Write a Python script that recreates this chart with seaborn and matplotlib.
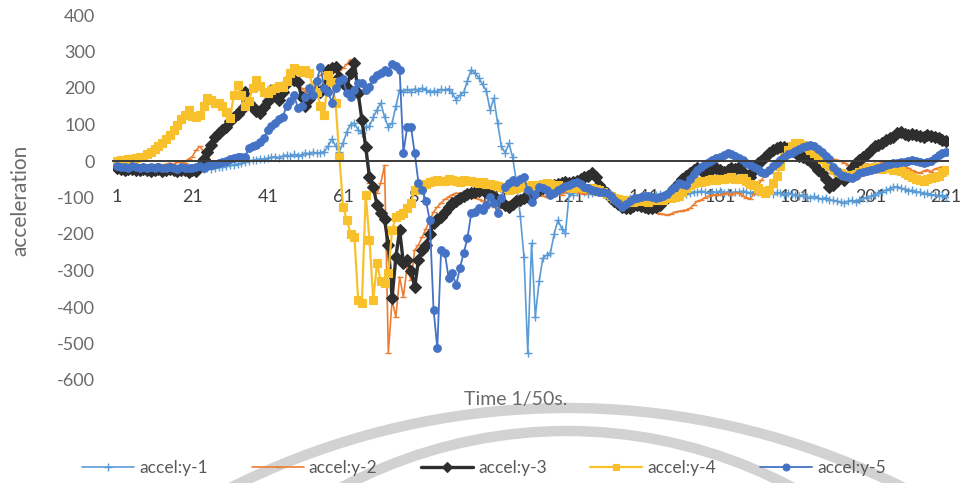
import numpy as np
import matplotlib
matplotlib.use("Agg")
import matplotlib.pyplot as plt
from matplotlib.patches import Circle
import seaborn as sns

# ---- data -------------------------------------------------------------
t = list(range(1, 222))

accel_y1 = [
    -20, -22, -21, -23, -20, -22, -24, -21, -23, -22,
    -24, -22, -25, -23, -21, -24, -26, -22, -25, -23,
    -24, -22, -20, -23, -19, -21, -18, -16, -17, -14,
    -12, -10, -8, -6, -3, 0, 2, 4, 6, 5,
    8, 10, 12, 9, 14, 16, 13, 18, 15, 17,
    22, 20, 24, 21, 23, 26, 40, 60, 42, 25,
    50, 80, 100, 104, 85, 77, 93, 95, 120, 140,
    159, 120, 93, 104, 150, 195, 188, 196, 190, 198,
    192, 200, 194, 188, 192, 190, 196, 194, 198, 185,
    168, 180, 188, 220, 250, 240, 228, 210, 192, 140,
    172, 104, 40, 22, 48, 10, -60, -150, -263, -526,
    -225, -427, -330, -266, -258, -252, -200, -162, -185, -197,
    -88, -92, -85, -80, -84, -90, -88, -82, -86, -90,
    -94, -98, -100, -104, -108, -106, -102, -98, -100, -96,
    -92, -95, -98, -94, -90, -92, -96, -93, -90, -88,
    -86, -90, -88, -84, -86, -82, -85, -88, -84, -86,
    -83, -87, -85, -88, -84, -86, -82, -85, -88, -84,
    -86, -82, -85, -88, -90, -86, -89, -92, -88, -90,
    -94, -96, -92, -98, -100, -97, -102, -104, -100, -106,
    -108, -110, -112, -114, -110, -108, -112, -106, -102, -100,
    -96, -92, -88, -84, -80, -76, -72, -70, -74, -78,
    -82, -80, -86, -84, -90, -88, -94, -92, -96, -94, -98,
]

accel_y2 = [
    -12, -10, -14, -11, -13, -9, -12, -10, -13, -11,
    -10, -8, -12, -9, -6, -10, -4, -2, -5, 5,
    12, 30, 40, 25, 15, 35, 55, 72, 88, 100,
    112, 125, 135, 150, 180, 160, 140, 135, 150, 160,
    175, 185, 170, 180, 200, 215, 230, 222, 210, 200,
    190, 205, 215, 225, 235, 240, 245, 250, 255, 248,
    255, 265, 278, 250, 190, 120, 30, -60, -80, -88,
    -60, -12, -526, -381, -427, -318, -372, -290, -326, -244,
    -230, -208, -185, -162, -140, -126, -115, -105, -98, -92,
    -88, -90, -86, -92, -95, -100, -105, -110, -115, -120,
    -126, -130, -125, -118, -112, -108, -100, -96, -94, -98,
    -100, -96, -92, -95, -98, -94, -90, -88, -92, -86,
    -79, -82, -85, -88, -90, -86, -88, -92, -90, -94,
    -96, -98, -100, -104, -106, -110, -115, -120, -124, -128,
    -129, -132, -136, -140, -144, -146, -148, -145, -140, -138,
    -136, -134, -130, -120, -110, -107, -100, -96, -93, -92,
    -93, -90, -88, -92, -88, -88, -95, -100, -104, -90,
    -70, -52, -38, -25, -20, -16, -5, 15, 35, 45,
    52, 48, 40, 35, 30, 25, 22, 15, 10, 8,
    5, 3, 0, -5, -10, -15, -19, -14, -11, -8,
    -11, -6, -8, -3, -5, -2, -3, 0, -6, -12,
    -20, -26, -30, -33, -28, -24, -30, -22, -19, -16, -19,
]

accel_y3 = [
    -20, -22, -25, -23, -21, -24, -26, -22, -24, -28,
    -25, -23, -27, -24, -22, -26, -28, -24, -26, -30,
    -25, -28, -15, 5, 25, 45, 65, 77, 85, 93,
    110, 121, 130, 140, 190, 160, 148, 138, 131, 148,
    165, 195, 180, 167, 190, 213, 227, 222, 217, 175,
    150, 170, 195, 192, 190, 200, 250, 255, 258, 230,
    215, 203, 240, 268, 186, 112, 38, -44, -71, -120,
    -143, -160, -230, -375, -263, -189, -280, -271, -300, -345,
    -271, -244, -230, -200, -170, -160, -153, -140, -125, -116,
    -110, -100, -95, -90, -88, -85, -82, -80, -85, -90,
    -98, -106, -112, -120, -126, -118, -110, -107, -102, -98,
    -92, -88, -80, -75, -71, -70, -66, -64, -60, -58,
    -60, -58, -55, -50, -45, -40, -33, -45, -65, -80,
    -88, -100, -110, -118, -125, -130, -128, -124, -120, -122,
    -126, -128, -130, -126, -120, -110, -100, -85, -71, -60,
    -50, -40, -33, -25, -20, -25, -33, -28, -22, -19,
    -25, -30, -25, -20, -22, -16, -30, -52, -45, -25,
    -5, 0, 11, 22, 30, 35, 38, 38, 35, 30,
    25, 15, 11, 5, 3, -10, -25, -33, -50, -71,
    -65, -55, -44, -52, -40, -20, -5, 3, 10, 20,
    30, 40, 45, 50, 58, 62, 65, 77, 80, 75,
    71, 73, 70, 68, 66, 70, 68, 65, 62, 58, 55,
]

accel_y4 = [
    0, 2, 3, 5, 6, 8, 10, 12, 18, 25,
    32, 40, 48, 60, 72, 85, 100, 115, 125, 140,
    122, 120, 125, 150, 172, 168, 160, 158, 150, 135,
    117, 180, 208, 180, 150, 165, 200, 222, 205, 190,
    185, 195, 200, 205, 203, 220, 240, 254, 250, 245,
    248, 240, 203, 190, 150, 125, 236, 217, 160, 12,
    -126, -162, -200, -208, -381, -389, -93, -216, -381, -280,
    -330, -334, -307, -190, -153, -148, -143, -130, -115, -79,
    -75, -71, -62, -58, -55, -52, -56, -54, -50, -53,
    -55, -58, -52, -56, -54, -57, -60, -58, -62, -64,
    -66, -68, -72, -75, -79, -76, -74, -70, -72, -68,
    -66, -70, -65, -62, -60, -64, -68, -66, -70, -71,
    -71, -74, -72, -70, -73, -75, -74, -76, -80, -85,
    -90, -95, -101, -104, -106, -108, -110, -112, -110, -108,
    -110, -112, -108, -105, -108, -106, -102, -100, -98, -96,
    -85, -75, -65, -60, -56, -58, -55, -52, -50, -52,
    -50, -48, -47, -45, -48, -50, -47, -55, -62, -66,
    -75, -82, -88, -80, -60, -40, -15, 10, 30, 42,
    49, 50, 45, 38, 30, 22, 11, 5, -5, -15,
    -25, -30, -33, -38, -40, -38, -35, -30, -25, -20,
    -19, -17, -20, -22, -18, -20, -24, -25, -28, -32,
    -38, -45, -50, -52, -55, -50, -47, -45, -40, -30, -25,
]

accel_y5 = [
    -15, -17, -16, -18, -15, -17, -19, -16, -18, -17,
    -19, -17, -20, -18, -16, -19, -21, -17, -20, -18,
    -19, -17, -15, -18, -14, -12, -8, -5, -2, 0,
    6, 8, 10, 11, 12, 36, 40, 44, 52, 63,
    85, 95, 104, 115, 121, 150, 165, 180, 145, 150,
    175, 200, 180, 220, 258, 200, 190, 160, 200, 220,
    225, 185, 175, 195, 213, 213, 195, 203, 225, 235,
    240, 250, 245, 267, 260, 250, 22, 93, 93, 22,
    -60, -79, -110, -162, -408, -512, -244, -252, -321, -307,
    -340, -293, -252, -211, -143, -140, -129, -134, -120, -98,
    -115, -143, -100, -71, -60, -52, -57, -50, -44, -80,
    -112, -90, -71, -75, -79, -93, -88, -80, -74, -68,
    -66, -60, -58, -62, -70, -75, -79, -82, -84, -86,
    -88, -95, -106, -115, -126, -118, -110, -104, -100, -98,
    -97, -96, -98, -100, -98, -96, -90, -80, -71, -60,
    -62, -66, -50, -35, -25, -16, -8, -3, 2, 8,
    11, 16, 22, 20, 14, 8, 3, -5, -12, -16,
    -22, -30, -33, -25, -15, -5, 2, 10, 18, 22,
    28, 34, 38, 42, 44, 40, 32, 25, 15, 5,
    -16, -28, -38, -42, -45, -47, -40, -33, -30, -27,
    -25, -22, -19, -16, -12, -8, -5, -5, -3, -2,
    0, 3, 1, -2, -5, -3, 0, 8, 16, 22, 25,
]

series_names = ["accel:y-1", "accel:y-2", "accel:y-3", "accel:y-4", "accel:y-5"]
y_ticks = [400, 300, 200, 100, 0, -100, -200, -300, -400, -500, -600]
x_tick_labels = list(range(1, 222, 20))

# ---- style ------------------------------------------------------------
sns.set_theme(style="white")
plt.rcParams["font.family"] = ["Lato", "DejaVu Sans"]

W, H = 968, 483
fig = plt.figure(figsize=(W / 100, H / 100), dpi=100)
fig.patch.set_facecolor("white")

# faint circular stamp seen through the page, behind the chart
bg = fig.add_axes([0, 0, 1, 1], zorder=0)
bg.set_xlim(0, W)
bg.set_ylim(H, 0)
bg.axis("off")
for cx, cy, r in [(567, 1158, 750), (567, 910, 479)]:
    bg.add_patch(Circle((cx, cy), r, fill=False, lw=7.5, ec="#d2d2d2"))

ax = fig.add_axes([113.2 / W, (H - 380) / H, (948 - 113.2) / W, 365 / H], zorder=1)
ax.set_facecolor("none")

styles = [
    dict(color="#5B9BD5", lw=1.2, marker="+", markersize=6, mew=1.0),
    dict(color="#ED7D31", lw=1.2, marker="_", markersize=4, mew=1.0),
    dict(color="#2e2e2e", lw=2.4, marker="D", markersize=6, mew=0.8),
    dict(color="#F8C12C", lw=1.6, marker="s", markersize=5.5, mew=0.8),
    dict(color="#4472C4", lw=1.3, marker="o", markersize=5.5, mew=0.8),
]
data = [accel_y1, accel_y2, accel_y3, accel_y4, accel_y5]

handles = []
for name, vals, st in zip(series_names, data, styles):
    sns.lineplot(x=t, y=vals, ax=ax, label=name, legend=False,
                 color=st["color"], linewidth=st["lw"], marker=st["marker"],
                 markersize=st["markersize"], markeredgewidth=st["mew"],
                 markeredgecolor=st["color"], markerfacecolor=st["color"])
    handles.append(ax.get_lines()[-1])
if ax.get_legend() is not None:
    ax.get_legend().remove()

ax.set_xlim(0, 221.5)
ax.set_ylim(-600, 400)

# category axis sits on y = 0
for s in ["top", "right", "left"]:
    ax.spines[s].set_visible(False)
ax.spines["bottom"].set_position(("data", 0))
ax.spines["bottom"].set_color("#3a3a3a")
ax.spines["bottom"].set_linewidth(1.4)

ax.set_xticks(x_tick_labels)
ax.set_xticklabels([str(v) for v in x_tick_labels])
ax.set_xticks(list(range(11, 222, 20)), minor=True)
ax.tick_params(axis="x", which="both", direction="in", length=5, width=1.1,
               color="#3a3a3a", pad=20, labelsize=13, labelcolor="#404040")
ax.set_yticks(y_ticks)
ax.set_yticklabels([str(v) for v in y_ticks])
ax.tick_params(axis="y", length=0, pad=13, labelsize=13, labelcolor="#6a6a6a")
ax.grid(False)
ax.set_xlabel("")
ax.set_ylabel("")

fig.text(20 / W, 1 - 200 / H, "acceleration", rotation=90, ha="center",
         va="center", fontsize=15, color="#6a6a6a")
fig.text(516 / W, 1 - 400 / H, "Time 1/50s.", ha="center", va="center",
         fontsize=14, color="#6a6a6a")

leg = fig.legend(handles=handles, labels=series_names, loc="center",
                 bbox_to_anchor=(484 / W, 1 - 468 / H), ncol=5, frameon=False,
                 fontsize=12.5, handlelength=3.0, handletextpad=0.3,
                 columnspacing=2.5, markerscale=0.9)
for txt in leg.get_texts():
    txt.set_color("#595959")

fig.savefig("out.png", dpi=100, facecolor="white")
